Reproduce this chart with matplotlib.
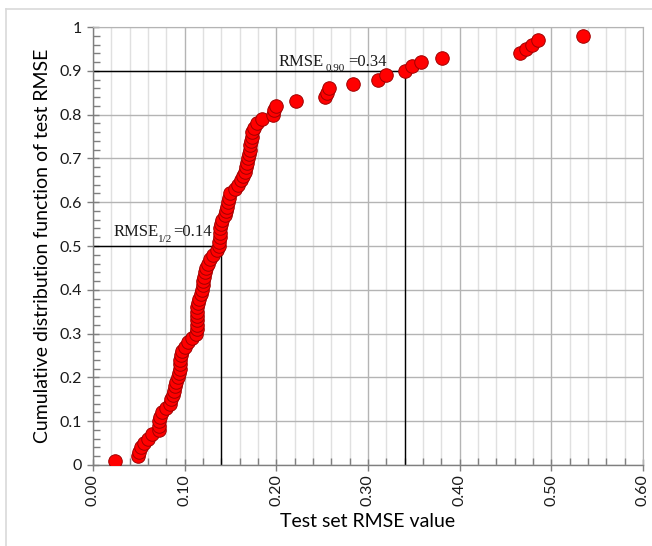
import matplotlib.pyplot as plt
from matplotlib.ticker import MultipleLocator, FormatStrFormatter
from matplotlib.lines import Line2D

# Test-set RMSE values (sorted) and their cumulative distribution
rmse = [0.024, 0.049, 0.050, 0.052, 0.056, 0.060, 0.064, 0.072, 0.072, 0.072,
        0.073, 0.075, 0.080, 0.084, 0.085, 0.087, 0.088, 0.090, 0.091, 0.093,
        0.094, 0.095, 0.095, 0.095, 0.096, 0.097, 0.100, 0.104, 0.108, 0.112,
        0.113, 0.113, 0.113, 0.113, 0.113, 0.114, 0.115, 0.116, 0.118, 0.119,
        0.120, 0.120, 0.121, 0.122, 0.123, 0.125, 0.128, 0.131, 0.135, 0.138,
        0.138, 0.139, 0.139, 0.139, 0.140, 0.141, 0.144, 0.145, 0.146, 0.147,
        0.148, 0.149, 0.155, 0.158, 0.161, 0.164, 0.166, 0.167, 0.168, 0.169,
        0.170, 0.171, 0.171, 0.172, 0.173, 0.174, 0.176, 0.179, 0.184, 0.196,
        0.198, 0.200, 0.222, 0.253, 0.255, 0.258, 0.284, 0.311, 0.320, 0.340,
        0.348, 0.358, 0.381, 0.466, 0.472, 0.479, 0.486, 0.535]
cdf = [0.01, 0.02, 0.03, 0.04, 0.05, 0.06, 0.07, 0.08, 0.09, 0.10,
       0.11, 0.12, 0.13, 0.14, 0.15, 0.16, 0.17, 0.18, 0.19, 0.20,
       0.21, 0.22, 0.23, 0.24, 0.25, 0.26, 0.27, 0.28, 0.29, 0.30,
       0.31, 0.32, 0.33, 0.34, 0.35, 0.36, 0.37, 0.38, 0.39, 0.40,
       0.41, 0.42, 0.43, 0.44, 0.45, 0.46, 0.47, 0.48, 0.49, 0.50,
       0.51, 0.52, 0.53, 0.54, 0.55, 0.56, 0.57, 0.58, 0.59, 0.60,
       0.61, 0.62, 0.63, 0.64, 0.65, 0.66, 0.67, 0.68, 0.69, 0.70,
       0.71, 0.72, 0.73, 0.74, 0.75, 0.76, 0.77, 0.78, 0.79, 0.80,
       0.81, 0.82, 0.83, 0.84, 0.85, 0.86, 0.87, 0.88, 0.89, 0.90,
       0.91, 0.92, 0.93, 0.94, 0.95, 0.96, 0.97, 0.98]

rmse_half = 0.14
rmse_90 = 0.34

plt.rcParams['font.family'] = ['Lato', 'DejaVu Sans']

fig = plt.figure(figsize=(6.52, 5.46), dpi=100)
ax = fig.add_axes([0.1426, 0.1484, 0.8435, 0.8021])

# faint outer frame (left and top only)
fig.add_artist(Line2D([0.009, 0.009], [0, 0.984], color='#d9d9d9', lw=1.2, transform=fig.transFigure))
fig.add_artist(Line2D([0.009, 1], [0.984, 0.984], color='#d9d9d9', lw=1.2, transform=fig.transFigure))

ax.set_xlim(0, 0.6)
ax.set_ylim(0, 1)
ax.xaxis.set_major_locator(MultipleLocator(0.1))
ax.xaxis.set_minor_locator(MultipleLocator(0.02))
ax.yaxis.set_major_locator(MultipleLocator(0.1))
ax.yaxis.set_minor_locator(MultipleLocator(0.02))
ax.xaxis.set_major_formatter(FormatStrFormatter('%.2f'))
ax.set_yticks([0, 0.1, 0.2, 0.3, 0.4, 0.5, 0.6, 0.7, 0.8, 0.9, 1.0])
ax.set_yticklabels(['0', '0.1', '0.2', '0.3', '0.4', '0.5', '0.6', '0.7', '0.8', '0.9', '1'])

ax.grid(which='major', axis='x', color='#b4b4b4', lw=1.0)
ax.grid(which='minor', axis='x', color='#e0e0e0', lw=1.0)
ax.grid(which='major', axis='y', color='#b4b4b4', lw=1.0)
ax.set_axisbelow(True)

for s in ['top', 'right']:
    ax.spines[s].set_color('#b4b4b4')
for s in ['left', 'bottom']:
    ax.spines[s].set_color('#7f7f7f')
    ax.spines[s].set_linewidth(1.0)

ax.tick_params(which='major', direction='inout', length=9, width=1, color='#7f7f7f',
               labelsize=11.5, labelcolor='#1a1a1a')
ax.tick_params(which='minor', direction='in', length=5, width=1, color='#7f7f7f')
ax.tick_params(axis='x', which='major', labelrotation=90, pad=2)
ax.tick_params(top=False, right=False, which='both')

# reference lines for median and 90th percentile
ax.plot([0, rmse_half, rmse_half], [0.5, 0.5, 0], color='black', lw=1.0, zorder=2)
ax.plot([0, rmse_90, rmse_90], [0.9, 0.9, 0], color='black', lw=1.0, zorder=2)

ax.scatter(rmse, cdf, s=95, color='#ff0000', edgecolor='#a00000', linewidth=0.7, zorder=3)


def label(x, y, sub, rest, gap_sub=0.0, gap_rest=0.0):
    # "RMSE" + small subscript + "=value", serif like the original
    kw = dict(family='Liberation Serif', color='#1a1a1a')
    t1 = ax.text(x, y, 'RMSE', fontsize=12, **kw)
    t2 = ax.annotate(sub, xy=(1, 0), xycoords=t1, xytext=(gap_sub, -2.5),
                     textcoords='offset points', va='bottom', fontsize=8, **kw)
    ax.annotate(rest, xy=(1, 0), xycoords=(t2, t1), xytext=(gap_rest, 0),
                textcoords='offset points', va='bottom', fontsize=12, **kw)


label(0.022, 0.522, '1/2', '=0.14', 0.0, 0.5)
label(0.202, 0.912, '0.90', '=0.34', 2.0, 2.0)

ax.set_xlabel('Test set RMSE value', fontsize=14, labelpad=5)
ax.set_ylabel('Cumulative distribution function of test RMSE', fontsize=14, labelpad=6)

fig.savefig('out.png', dpi=100)
